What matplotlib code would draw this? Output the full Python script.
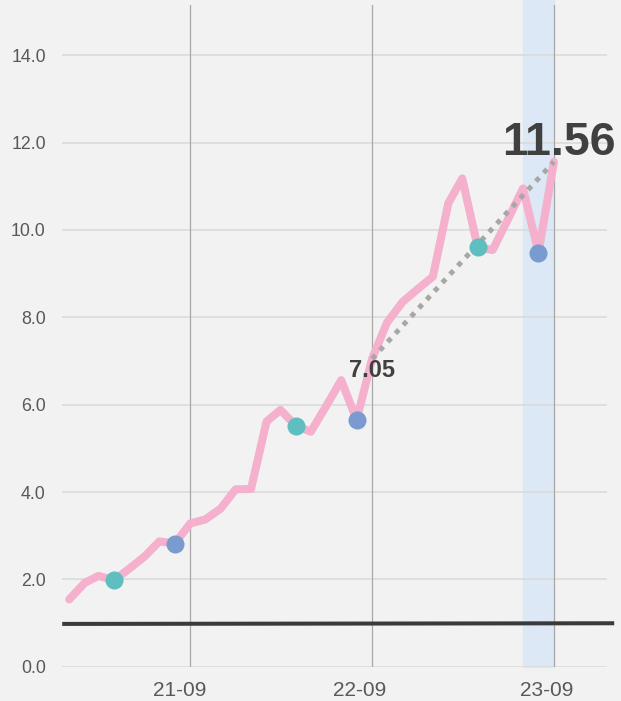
import matplotlib
matplotlib.use("Agg")
import matplotlib.pyplot as plt
import matplotlib.dates as mdates
import matplotlib.transforms as mtransforms
import pandas as pd

# monthly values, Jan 2021 .. Sep 2023
months = pd.date_range("2021-01-01", "2023-09-01", freq="MS")
values = [1.54, 1.92, 2.08, 1.98, 2.24, 2.52, 2.87, 2.82, 3.28, 3.37, 3.62, 4.06,
          4.07, 5.61, 5.88, 5.52, 5.38, 5.97, 6.56, 5.65, 7.05, 7.88, 8.35, 8.64,
          8.93, 10.61, 11.18, 9.60, 9.54, 10.25, 10.95, 9.48, 11.56]

# seasonal markers (April = teal, August = blue)
teal_dates = pd.to_datetime(["2021-04-01", "2022-04-01", "2023-04-01"])
blue_dates = pd.to_datetime(["2021-08-01", "2022-08-01", "2023-08-01"])

# dotted year-on-year line
yoy_dates = pd.to_datetime(["2022-09-01", "2023-09-01"])
yoy_values = [7.05, 11.56]

# flat reference line
ref_dates = pd.to_datetime(["2020-12-18", "2023-12-31"])
ref_values = [0.98, 0.995]

band_start, band_end = pd.Timestamp("2023-07-01"), pd.Timestamp("2023-09-01")
tick_dates = pd.to_datetime(["2021-09-01", "2022-09-01", "2023-09-01"])

lookup = dict(zip(months, values))

plt.rcParams['font.family'] = ['Liberation Sans', 'DejaVu Sans']
bg = "#f2f2f2"
fig = plt.figure(figsize=(6.21, 7.01), dpi=100, facecolor=bg)
ax = fig.add_axes([0.0994, 0.0489, 0.8776, 0.944])
ax.set_facecolor(bg)

ax.axvspan(band_start, band_end, ymin=0, ymax=1.008, color="#dce8f5", zorder=0, clip_on=False)

for y in range(0, 16, 2):
    ax.axhline(y, color="#dadada", lw=1.2, zorder=1)
for d in tick_dates:
    ax.axvline(d, color="#a8a8a8", lw=0.9, zorder=1)

ax.plot(ref_dates, ref_values, color="#3a3a3a", lw=2.9, zorder=2, clip_on=False,
        solid_capstyle="butt")

ax.plot(months, values, color="#f4b0cc", lw=5.8, zorder=3,
        solid_capstyle="round", solid_joinstyle="round")

ax.plot(yoy_dates, yoy_values, color="#a9a6a6", lw=3.6, zorder=4,
        linestyle=(0, (1, 1.3)))

ax.plot(teal_dates, [lookup[d] for d in teal_dates], "o", ms=13, color="#5fbfc0",
        mec="none", zorder=5)
ax.plot(blue_dates, [lookup[d] for d in blue_dates], "o", ms=13, color="#7a9bcf",
        mec="none", zorder=5)

ax.annotate(f"{yoy_values[0]:.2f}", (yoy_dates[0], yoy_values[0]), xytext=(0, -13),
            textcoords="offset points", ha="center", va="baseline",
            fontsize=17, fontweight="bold", color="#404040", zorder=6)
ax.annotate(f"{yoy_values[1]:.2f}", (yoy_dates[1], yoy_values[1]), xytext=(3.6, 4.8),
            textcoords="offset points", ha="center", va="baseline",
            fontsize=33.5, fontweight="bold", color="#404040", zorder=6,
            annotation_clip=False)

ax.set_xlim(pd.Timestamp("2020-12-17"), pd.Timestamp("2023-12-16"))
ax.set_ylim(0, 15.15)
ax.set_yticks(range(0, 16, 2))
ax.yaxis.set_major_formatter(matplotlib.ticker.FormatStrFormatter("%.1f"))
ax.set_xticks(tick_dates)
ax.xaxis.set_major_formatter(mdates.DateFormatter("%y-%m"))
ax.tick_params(axis="y", length=0, pad=11.5, labelsize=12.8, labelcolor="#595959")
ax.tick_params(axis="x", length=0, pad=10.5, labelsize=15, labelcolor="#595959")
for s in ax.spines.values():
    s.set_visible(False)

# x labels sit a little left of their gridlines in the original
for lab, dx in zip(ax.get_xticklabels(), [-10.5, -12, -7.5]):
    lab.set_transform(lab.get_transform() +
                      mtransforms.ScaledTranslation(dx / 100, 0, fig.dpi_scale_trans))

fig.savefig("out.png", dpi=100, facecolor=bg)
